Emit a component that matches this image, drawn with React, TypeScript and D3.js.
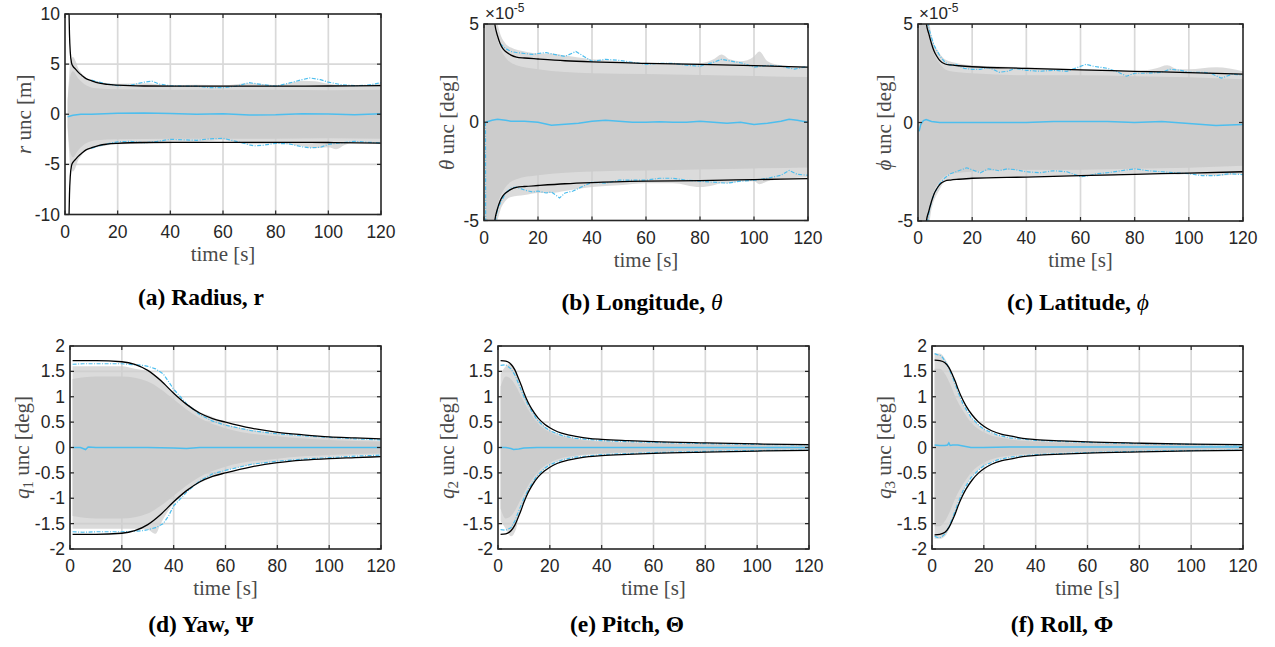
import React from 'react';
import * as d3 from 'd3';

// ---------------- DATA ----------------
const timeTicks = [0, 20, 40, 60, 80, 100, 120];
const yTicksA = [-10, -5, 0, 5, 10];
const yTicksBC = [-5, 0, 5];
const yTicksQ = [-2, -1.5, -1, -0.5, 0, 0.5, 1, 1.5, 2];

// (a) radius [m]
const aBlackT = [1.5, 1.7, 2, 2.5, 3, 4, 5, 6.5, 8, 10, 13, 16, 20, 30, 50, 80, 100, 120];
const aBlackUp = [10.5, 8, 6.2, 5.1, 4.8, 4.5, 4.2, 3.85, 3.55, 3.35, 3.1, 2.98, 2.9, 2.82, 2.8, 2.8, 2.82, 2.85];
const aBlackLo = [-10.5, -8, -6.2, -5.1, -4.8, -4.5, -4.2, -3.85, -3.55, -3.35, -3.1, -2.98, -2.9, -2.82, -2.8, -2.8, -2.82, -2.88];
const aBlueUpT = [10, 13, 16, 20, 25, 30, 33, 36, 40, 45, 50, 55, 60, 65, 70, 75, 80, 85, 90, 93, 97, 100, 105, 110, 115, 120];
const aBlueUpV = [3.4, 3.2, 3.0, 2.85, 2.9, 3.2, 3.3, 3.0, 2.85, 2.8, 2.8, 2.65, 2.65, 2.8, 3.15, 2.95, 2.8, 3.1, 3.45, 3.62, 3.45, 3.2, 2.95, 2.85, 2.9, 3.15];
const aBlueLoT = [10, 13, 16, 20, 25, 30, 35, 40, 45, 50, 55, 60, 65, 70, 72, 75, 80, 85, 90, 93, 97, 100, 105, 110, 115, 120];
const aBlueLoV = [-3.4, -3.15, -2.95, -2.75, -2.7, -2.85, -2.7, -2.5, -2.55, -2.6, -2.45, -2.4, -2.7, -3.05, -3.15, -3.1, -2.9, -2.95, -3.25, -3.35, -3.3, -3.0, -2.85, -2.7, -2.8, -2.85];
const aMeanT = [1, 3, 6, 10, 20, 30, 40, 50, 60, 70, 80, 90, 100, 110, 120];
const aMeanV = [-0.25, -0.1, 0, 0, 0.1, 0.12, 0.08, 0, 0.05, -0.08, -0.05, 0.05, 0.02, -0.05, 0.05];
const aCloudT = [1, 1.5, 2, 3, 4, 5, 6, 8, 10, 12, 15, 20, 30, 40, 50, 60, 70, 80, 85, 90, 95, 100, 103, 106, 110, 120];
const aCloudUp = [1.5, 3.5, 5.2, 5.7, 5.3, 4.6, 4.2, 3.6, 3.4, 3.3, 3.15, 3.05, 3.1, 2.9, 2.95, 2.9, 3.1, 2.9, 3.1, 3.35, 3.3, 3.05, 2.95, 2.9, 2.85, 3.1];
const aCloudLo = [-1.5, -3.5, -5.2, -5.7, -5.3, -4.6, -4.2, -3.6, -3.4, -3.3, -3.15, -3.0, -2.95, -2.75, -2.75, -2.6, -3.0, -2.95, -3.0, -3.2, -3.4, -3.3, -3.5, -3.1, -2.8, -2.9];
const aCoreT = [1, 2, 3, 5, 8, 12, 20, 40, 60, 80, 100, 120];
const aCoreUp = [1.2, 3.8, 4.3, 3.6, 2.9, 2.6, 2.5, 2.45, 2.45, 2.45, 2.4, 2.45];
const aCoreLo = [-1.2, -3.8, -4.3, -3.6, -2.9, -2.6, -2.5, -2.45, -2.45, -2.45, -2.4, -2.45];

// (b) longitude [x1e-5 deg]
const bBlackT = [3.5, 4, 5, 6, 7, 8, 10, 12, 15, 20, 30, 40, 60, 80, 100, 120];
const bBlackUp = [5.6, 5.0, 4.4, 4.0, 3.75, 3.6, 3.42, 3.32, 3.27, 3.22, 3.13, 3.07, 3.0, 2.95, 2.88, 2.8];
const bBlackLo = [-5.6, -5.0, -4.4, -4.0, -3.75, -3.6, -3.42, -3.32, -3.27, -3.22, -3.13, -3.07, -3.0, -2.97, -2.92, -2.87];
const bBlueUpT = [6, 8, 10, 12, 15, 18, 20, 23, 26, 30, 34, 37, 40, 45, 50, 55, 60, 65, 70, 75, 80, 85, 88, 92, 96, 100, 105, 110, 115, 120];
const bBlueUpV = [4.0, 3.75, 3.6, 3.55, 3.5, 3.45, 3.5, 3.55, 3.45, 3.35, 3.6, 3.35, 3.1, 3.2, 3.15, 3.05, 2.95, 3.0, 3.0, 2.9, 2.85, 3.05, 3.2, 3.1, 3.0, 2.8, 2.9, 2.85, 2.7, 2.85];
const bBlueLoT = [0.55, 0.65, 3, 5, 8, 10, 12, 15, 18, 20, 23, 25, 28, 30, 33, 36, 40, 45, 50, 55, 60, 65, 70, 75, 80, 85, 90, 95, 100, 105, 110, 113, 116, 120];
const bBlueLoV = [0, -8, -6, -4.4, -3.6, -3.35, -3.3, -3.45, -3.55, -3.5, -3.6, -3.55, -3.85, -3.6, -3.5, -3.3, -3.05, -3.1, -2.95, -2.95, -2.95, -2.85, -2.85, -2.95, -3.0, -3.05, -3.1, -3.0, -2.95, -2.85, -2.7, -2.45, -2.65, -2.7];
const bMeanT = [0.6, 3, 5, 8, 10, 15, 20, 25, 30, 35, 40, 45, 50, 55, 60, 65, 70, 75, 80, 85, 90, 95, 100, 105, 110, 113, 116, 120];
const bMeanV = [0, 0.1, 0.15, 0.1, 0.05, 0.05, 0, -0.15, -0.1, -0.05, 0.05, 0.1, 0.05, 0, 0, 0.02, 0, 0, 0.05, 0, -0.05, 0, -0.12, -0.05, 0.05, 0.15, 0.1, 0];
const bCloudT = [0.5, 1, 2, 3, 4, 5, 6, 8, 10, 15, 20, 25, 30, 40, 50, 60, 70, 80, 85, 88, 91, 95, 100, 102, 105, 110, 120];
const bCloudUp = [5.5, 5.5, 5.5, 5.5, 5.5, 5.0, 4.5, 4.0, 3.8, 3.6, 3.5, 3.5, 3.4, 3.2, 3.1, 3.0, 3.0, 3.0, 3.2, 3.45, 3.2, 3.1, 3.35, 3.6, 3.1, 2.9, 2.8];
const bCloudLo = [-5.5, -5.5, -5.5, -5.5, -5.5, -5.0, -4.5, -4.0, -3.8, -3.7, -3.6, -3.6, -3.5, -3.3, -3.2, -3.1, -3.1, -3.3, -3.2, -3.1, -3.1, -3.0, -3.0, -3.15, -3.0, -2.9, -2.8];
const bCoreT = [0.5, 3, 5, 8, 12, 20, 40, 60, 80, 100, 120];
const bCoreUp = [5.5, 5.5, 4.2, 3.3, 2.9, 2.7, 2.5, 2.45, 2.4, 2.35, 2.3];
const bCoreLo = [-5.5, -5.5, -4.2, -3.3, -2.9, -2.7, -2.5, -2.45, -2.4, -2.35, -2.3];

// (c) latitude [x1e-5 deg]
const cBlackT = [2.7, 3, 4, 5, 6, 7, 8, 10, 12, 15, 20, 40, 60, 80, 100, 120];
const cBlackUp = [5.8, 5.1, 4.5, 4.0, 3.6, 3.35, 3.15, 2.97, 2.92, 2.88, 2.83, 2.75, 2.67, 2.6, 2.53, 2.46];
const cBlackLo = [-5.8, -5.1, -4.5, -4.0, -3.6, -3.35, -3.15, -2.97, -2.92, -2.88, -2.83, -2.77, -2.7, -2.63, -2.57, -2.5];
const cBlueUpT = [3, 4, 5, 6, 8, 10, 12, 14, 17, 20, 23, 26, 30, 33, 36, 40, 45, 50, 55, 58, 62, 65, 70, 74, 77, 80, 85, 90, 93, 97, 100, 105, 108, 112, 116, 120];
const cBlueUpV = [5.5, 4.8, 4.3, 3.9, 3.4, 3.05, 2.9, 2.95, 2.75, 2.7, 2.7, 2.8, 2.55, 2.6, 2.75, 2.65, 2.6, 2.65, 2.6, 2.75, 2.95, 2.85, 2.75, 2.55, 2.35, 2.5, 2.5, 2.55, 2.7, 2.65, 2.55, 2.55, 2.5, 2.25, 2.45, 2.4];
const cBlueLoT = [3, 4, 5, 6, 8, 10, 12, 15, 18, 20, 23, 26, 30, 33, 36, 40, 45, 50, 55, 60, 63, 66, 70, 75, 80, 85, 90, 95, 100, 105, 110, 115, 120];
const cBlueLoV = [-5.5, -4.6, -4.0, -3.6, -3.1, -2.8, -2.6, -2.45, -2.3, -2.4, -2.55, -2.35, -2.45, -2.35, -2.4, -2.5, -2.55, -2.45, -2.5, -2.75, -2.7, -2.6, -2.55, -2.45, -2.35, -2.45, -2.5, -2.55, -2.6, -2.7, -2.7, -2.6, -2.65];
const cMeanT = [0.4, 1, 2, 3, 5, 8, 10, 15, 20, 30, 40, 50, 60, 70, 80, 90, 100, 110, 120];
const cMeanV = [-0.45, -0.1, 0.1, 0.15, 0.05, 0, 0, 0, 0, 0, 0, 0.05, 0.05, 0.05, 0, 0.05, -0.05, -0.15, -0.1];
const cCloudT = [0.5, 3, 3.5, 5, 8, 10, 15, 20, 40, 60, 70, 80, 88, 92, 96, 100, 110, 120];
const cCloudUp = [5.5, 5.5, 5.5, 4.4, 3.5, 3.2, 3.0, 2.9, 2.8, 2.7, 2.65, 2.6, 2.75, 2.9, 2.7, 2.7, 2.8, 2.6];
const cCloudLo = [-5.5, -5.5, -5.5, -4.4, -3.4, -3.0, -2.85, -2.8, -2.75, -2.7, -2.7, -2.6, -2.6, -2.6, -2.65, -2.6, -2.7, -2.6];
const cCoreT = [0.5, 3, 5, 8, 12, 20, 40, 60, 80, 100, 120];
const cCoreUp = [5.5, 5.5, 3.9, 3.0, 2.6, 2.5, 2.4, 2.4, 2.35, 2.3, 2.2];
const cCoreLo = [-5.5, -5.5, -3.9, -3.0, -2.6, -2.5, -2.4, -2.4, -2.35, -2.3, -2.2];

// (d) q1 [deg]
const dBlackT = [1, 10, 20, 25, 30, 35, 40, 45, 50, 55, 60, 70, 80, 90, 100, 110, 120];
const dBlackUp = [1.71, 1.71, 1.69, 1.64, 1.52, 1.32, 1.07, 0.85, 0.68, 0.57, 0.5, 0.38, 0.3, 0.25, 0.21, 0.19, 0.17];
const dBlackLo = [-1.71, -1.71, -1.69, -1.64, -1.52, -1.32, -1.07, -0.85, -0.68, -0.57, -0.5, -0.38, -0.3, -0.25, -0.22, -0.2, -0.18];
const dBlueT = [1, 5, 10, 15, 20, 25, 28, 30, 33, 36, 38, 40, 45, 50, 55, 60, 70, 80, 90, 100, 110, 120];
const dBlueUpV = [1.64, 1.65, 1.65, 1.65, 1.65, 1.63, 1.62, 1.6, 1.55, 1.45, 1.3, 1.15, 0.86, 0.65, 0.52, 0.44, 0.33, 0.27, 0.23, 0.2, 0.17, 0.15];
const dBlueLoV = [-1.66, -1.67, -1.66, -1.66, -1.66, -1.65, -1.64, -1.62, -1.58, -1.5, -1.35, -1.15, -0.88, -0.66, -0.52, -0.45, -0.33, -0.27, -0.23, -0.2, -0.17, -0.15];
const dMeanT = [1, 4, 5, 6, 7, 10, 20, 30, 40, 45, 50, 60, 80, 100, 120];
const dMeanV = [0, 0, -0.02, -0.04, 0.01, 0, 0, 0, -0.01, -0.02, 0, 0, 0, 0, 0];
const dCloudT = [1, 6, 7, 10, 20, 25, 30, 33, 35, 40, 45, 50, 55, 60, 70, 80, 90, 100, 110, 120];
const dCloudUp = [1.6, 1.6, 1.6, 1.6, 1.6, 1.55, 1.5, 1.42, 1.35, 1.05, 0.85, 0.7, 0.6, 0.47, 0.35, 0.27, 0.22, 0.19, 0.16, 0.14];
const dCloudLo = [-1.6, -1.6, -1.6, -1.6, -1.6, -1.6, -1.62, -1.7, -1.5, -1.1, -0.86, -0.7, -0.58, -0.46, -0.34, -0.27, -0.22, -0.19, -0.16, -0.14];
const dCoreT = [1, 10, 20, 30, 35, 40, 45, 50, 60, 80, 100, 120];
const dCoreUp = [1.35, 1.4, 1.4, 1.3, 1.15, 0.95, 0.75, 0.58, 0.38, 0.22, 0.15, 0.12];
const dCoreLo = [-1.35, -1.4, -1.4, -1.3, -1.15, -0.95, -0.75, -0.58, -0.38, -0.22, -0.15, -0.12];

// (e) q2 [deg]
const eBlackT = [1, 3, 5, 6.5, 8, 9, 10, 11.5, 13, 15.5, 18, 20, 23, 27, 30, 35, 40, 50, 60, 80, 100, 120];
const eBlackUp = [1.71, 1.7, 1.64, 1.53, 1.35, 1.22, 1.08, 0.9, 0.76, 0.58, 0.46, 0.39, 0.31, 0.25, 0.22, 0.18, 0.16, 0.135, 0.115, 0.09, 0.07, 0.055];
const eBlackLo = [-1.71, -1.7, -1.64, -1.53, -1.35, -1.22, -1.08, -0.9, -0.76, -0.58, -0.46, -0.39, -0.31, -0.25, -0.22, -0.18, -0.16, -0.135, -0.115, -0.09, -0.07, -0.055];
const eBlueT = [1, 3, 5, 6.5, 8, 10, 12, 15, 18, 20, 25, 30, 40, 50, 60, 80, 100, 120];
const eBlueUpV = [1.62, 1.63, 1.55, 1.43, 1.25, 1.0, 0.8, 0.55, 0.4, 0.33, 0.23, 0.18, 0.135, 0.115, 0.1, 0.075, 0.06, 0.05];
const eBlueLoV = [-1.62, -1.63, -1.58, -1.45, -1.25, -1.0, -0.8, -0.56, -0.41, -0.34, -0.24, -0.19, -0.14, -0.12, -0.1, -0.075, -0.06, -0.05];
const eMeanT = [1, 3, 5, 6, 8, 10, 15, 20, 120];
const eMeanV = [0, 0, -0.02, -0.04, -0.03, -0.01, 0, 0, 0];
const eCloudT = [1, 3, 5, 7, 8, 10, 12, 15, 18, 20, 25, 30, 40, 60, 80, 100, 120];
const eCloudUp = [1.45, 1.6, 1.65, 1.5, 1.3, 1.05, 0.85, 0.58, 0.42, 0.34, 0.24, 0.18, 0.13, 0.1, 0.075, 0.06, 0.05];
const eCloudLo = [-1.45, -1.6, -1.75, -1.6, -1.35, -1.05, -0.85, -0.58, -0.42, -0.34, -0.24, -0.18, -0.13, -0.1, -0.075, -0.06, -0.05];
const eCoreT = [1, 3, 5, 7, 9, 12, 15, 20, 30, 40, 60, 120];
const eCoreUp = [1.2, 1.4, 1.35, 1.2, 1.0, 0.72, 0.5, 0.3, 0.16, 0.12, 0.08, 0.04];
const eCoreLo = [-1.2, -1.4, -1.35, -1.2, -1.0, -0.72, -0.5, -0.3, -0.16, -0.12, -0.08, -0.04];

// (f) q3 [deg]
const fBlackT = [1, 3, 5, 6.5, 8, 9, 10, 11.5, 13, 15.5, 18, 20, 23, 27, 30, 35, 40, 50, 60, 80, 100, 120];
const fBlackUp = [1.72, 1.71, 1.67, 1.58, 1.42, 1.3, 1.16, 0.98, 0.83, 0.64, 0.5, 0.42, 0.33, 0.26, 0.23, 0.18, 0.155, 0.13, 0.11, 0.085, 0.065, 0.055];
const fBlackLo = [-1.72, -1.71, -1.67, -1.58, -1.42, -1.3, -1.16, -0.98, -0.83, -0.64, -0.5, -0.42, -0.33, -0.26, -0.23, -0.18, -0.155, -0.13, -0.11, -0.085, -0.065, -0.055];
const fBlueT = [1, 2, 3, 4, 5, 6, 7, 8, 10, 12, 15, 18, 20, 25, 30, 40, 50, 60, 80, 100, 120];
const fBlueUpV = [1.85, 1.83, 1.82, 1.78, 1.7, 1.62, 1.5, 1.38, 1.1, 0.85, 0.6, 0.44, 0.36, 0.25, 0.19, 0.14, 0.12, 0.1, 0.075, 0.06, 0.05];
const fBlueLoV = [-1.75, -1.77, -1.78, -1.75, -1.7, -1.62, -1.5, -1.38, -1.1, -0.85, -0.6, -0.44, -0.36, -0.25, -0.19, -0.14, -0.12, -0.1, -0.075, -0.06, -0.05];
const fMeanT = [1, 3, 5, 6, 6.5, 7, 8, 9, 10, 12, 15, 20, 30, 120];
const fMeanV = [0.05, 0.04, 0.04, 0.05, 0.09, 0.04, 0.05, 0.05, 0.05, 0.03, 0, 0, 0.01, 0.01];
const fCloudT = [1, 3, 5, 7, 8, 10, 12, 15, 18, 20, 25, 30, 40, 60, 80, 100, 120];
const fCloudUp = [1.85, 1.85, 1.75, 1.55, 1.4, 1.1, 0.85, 0.6, 0.44, 0.36, 0.25, 0.19, 0.14, 0.1, 0.075, 0.06, 0.05];
const fCloudLo = [-1.8, -1.8, -1.75, -1.55, -1.4, -1.1, -0.85, -0.6, -0.44, -0.36, -0.25, -0.19, -0.14, -0.1, -0.075, -0.06, -0.05];
const fCoreT = [1, 3, 5, 7, 9, 12, 15, 20, 30, 40, 60, 120];
const fCoreUp = [1.55, 1.55, 1.45, 1.25, 1.0, 0.72, 0.5, 0.3, 0.16, 0.12, 0.08, 0.04];
const fCoreLo = [-1.55, -1.55, -1.45, -1.25, -1.0, -0.72, -0.5, -0.3, -0.16, -0.12, -0.08, -0.04];

// ---------------- STYLE / LAYOUT ----------------
const BLUE = '#4DBEEE';
const GRAY = '#cccccc';
const AX = '#262626';
const GRID = '#d9d9d9';
const SANS = '"Liberation Sans", Arial, Helvetica, sans-serif';
const SERIF = '"Liberation Serif", "Times New Roman", serif';

type PanelCfg = {
  id: string;
  box: [number, number, number, number];
  yDomain: [number, number];
  yTicks: number[];
  exp: boolean;
  yLabelX: number;
  yLabel: React.ReactNode;
  caption: React.ReactNode;
  captionX: number;
  captionY: number;
  cloud: [number[], number[], number[]];
  core: [number[], number[], number[]];
  black: [number[], number[], number[]];
  blueUp: [number[], number[]];
  blueLo: [number[], number[]];
  mean: [number[], number[]];
};

const it = (s: string) => <tspan fontStyle="italic">{s}</tspan>;
const itN = (s: string) => <tspan fontStyle="italic" fontWeight="normal">{s}</tspan>;
const qLabel = (n: string) => (
  <>
    <tspan fontStyle="italic">q</tspan>
    <tspan fontSize="15" dy="4">{n}</tspan>
    <tspan dy="-4"> unc [deg]</tspan>
  </>
);

const panels: PanelCfg[] = [
  {
    id: 'a', box: [65, 14, 381, 214.5], yDomain: [-10, 10], yTicks: yTicksA, exp: false,
    yLabelX: 24, yLabel: <>{it('r')} unc [m]</>,
    caption: <>(a) Radius, r</>, captionX: 201, captionY: 305,
    cloud: [aCloudT, aCloudUp, aCloudLo], core: [aCoreT, aCoreUp, aCoreLo],
    black: [aBlackT, aBlackUp, aBlackLo], blueUp: [aBlueUpT, aBlueUpV], blueLo: [aBlueLoT, aBlueLoV],
    mean: [aMeanT, aMeanV],
  },
  {
    id: 'b', box: [484, 24, 808, 220.5], yDomain: [-5, 5], yTicks: yTicksBC, exp: true,
    yLabelX: 447, yLabel: <>{it('θ')} unc [deg]</>,
    caption: <>(b) Longitude, {itN('θ')}</>, captionX: 642, captionY: 310,
    cloud: [bCloudT, bCloudUp, bCloudLo], core: [bCoreT, bCoreUp, bCoreLo],
    black: [bBlackT, bBlackUp, bBlackLo], blueUp: [bBlueUpT, bBlueUpV], blueLo: [bBlueLoT, bBlueLoV],
    mean: [bMeanT, bMeanV],
  },
  {
    id: 'c', box: [918, 24, 1243, 221], yDomain: [-5, 5], yTicks: yTicksBC, exp: true,
    yLabelX: 884, yLabel: <>{it('ϕ')} unc [deg]</>,
    caption: <>(c) Latitude, {itN('ϕ')}</>, captionX: 1078, captionY: 310,
    cloud: [cCloudT, cCloudUp, cCloudLo], core: [cCoreT, cCoreUp, cCoreLo],
    black: [cBlackT, cBlackUp, cBlackLo], blueUp: [cBlueUpT, cBlueUpV], blueLo: [cBlueLoT, cBlueLoV],
    mean: [cMeanT, cMeanV],
  },
  {
    id: 'd', box: [70, 346, 381, 549], yDomain: [-2, 2], yTicks: yTicksQ, exp: false,
    yLabelX: 22, yLabel: qLabel('1'),
    caption: <>(d) Yaw, Ψ</>, captionX: 201, captionY: 632,
    cloud: [dCloudT, dCloudUp, dCloudLo], core: [dCoreT, dCoreUp, dCoreLo],
    black: [dBlackT, dBlackUp, dBlackLo], blueUp: [dBlueT, dBlueUpV], blueLo: [dBlueT, dBlueLoV],
    mean: [dMeanT, dMeanV],
  },
  {
    id: 'e', box: [498, 346, 809, 549], yDomain: [-2, 2], yTicks: yTicksQ, exp: false,
    yLabelX: 447, yLabel: qLabel('2'),
    caption: <>(e) Pitch, Θ</>, captionX: 627, captionY: 632,
    cloud: [eCloudT, eCloudUp, eCloudLo], core: [eCoreT, eCoreUp, eCoreLo],
    black: [eBlackT, eBlackUp, eBlackLo], blueUp: [eBlueT, eBlueUpV], blueLo: [eBlueT, eBlueLoV],
    mean: [eMeanT, eMeanV],
  },
  {
    id: 'f', box: [932, 346, 1243, 549], yDomain: [-2, 2], yTicks: yTicksQ, exp: false,
    yLabelX: 884, yLabel: qLabel('3'),
    caption: <>(f) Roll, Φ</>, captionX: 1062, captionY: 632,
    cloud: [fCloudT, fCloudUp, fCloudLo], core: [fCoreT, fCoreUp, fCoreLo],
    black: [fBlackT, fBlackUp, fBlackLo], blueUp: [fBlueT, fBlueUpV], blueLo: [fBlueT, fBlueLoV],
    mean: [fMeanT, fMeanV],
  },
];

function Panel({ p }: { p: PanelCfg }) {
  const [x0, y0, x1, y1] = p.box;
  const x = d3.scaleLinear().domain([0, 120]).range([x0, x1]);
  const y = d3.scaleLinear().domain(p.yDomain).range([y1, y0]);
  const zip = (t: number[], v: number[]) => t.map((tt, i) => [tt, v[i]] as [number, number]);
  const lineSmooth = d3.line<[number, number]>().x(d => x(d[0])).y(d => y(d[1])).curve(d3.curveMonotoneX);
  const lineRaw = d3.line<[number, number]>().x(d => x(d[0])).y(d => y(d[1]));
  const band = (t: number[], up: number[], lo: number[]) =>
    d3.area<number>().x(i => x(t[i])).y0(i => y(lo[i])).y1(i => y(up[i])).curve(d3.curveMonotoneX)(t.map((_, i) => i)) || '';
  const clip = `clip-${p.id}`;
  const tl = 4;
  return (
    <g>
      <defs>
        <clipPath id={clip}>
          <rect x={x0} y={y0} width={x1 - x0} height={y1 - y0} />
        </clipPath>
      </defs>
      <rect x={x0} y={y0} width={x1 - x0} height={y1 - y0} fill="#fff" />
      {timeTicks.slice(1, -1).map(t => (
        <line key={'gx' + t} x1={x(t)} x2={x(t)} y1={y0} y2={y1} stroke={GRID} strokeWidth={1.7} />
      ))}
      {p.yTicks.slice(1, -1).map(v => (
        <line key={'gy' + v} x1={x0} x2={x1} y1={y(v)} y2={y(v)} stroke={GRID} strokeWidth={1.7} />
      ))}
      <g clipPath={`url(#${clip})`}>
        <path d={band(p.cloud[0], p.cloud[1], p.cloud[2])} fill={GRAY} fillOpacity={0.7} />
        <path d={band(p.core[0], p.core[1], p.core[2])} fill={GRAY} />
        <path d={lineRaw(zip(p.blueUp[0], p.blueUp[1])) || ''} fill="none" stroke={BLUE} strokeWidth={1.2} strokeDasharray="4,1.5,1,1.5" />
        <path d={lineRaw(zip(p.blueLo[0], p.blueLo[1])) || ''} fill="none" stroke={BLUE} strokeWidth={1.2} strokeDasharray="4,1.5,1,1.5" />
        <path d={lineRaw(zip(p.mean[0], p.mean[1])) || ''} fill="none" stroke={BLUE} strokeWidth={1.5} />
        <path d={lineSmooth(zip(p.black[0], p.black[1])) || ''} fill="none" stroke="#000" strokeWidth={1.3} />
        <path d={lineSmooth(zip(p.black[0], p.black[2])) || ''} fill="none" stroke="#000" strokeWidth={1.3} />
      </g>
      {timeTicks.map(t => (
        <g key={'tx' + t}>
          <line x1={x(t)} x2={x(t)} y1={y1} y2={y1 - tl} stroke={AX} strokeWidth={1.2} />
          <line x1={x(t)} x2={x(t)} y1={y0} y2={y0 + tl} stroke={AX} strokeWidth={1.2} />
          <text x={x(t)} y={y1 + 23} textAnchor="middle" fontFamily={SANS} fontSize={17.5} fill={AX}>{t}</text>
        </g>
      ))}
      {p.yTicks.map(v => (
        <g key={'ty' + v}>
          <line x1={x0} x2={x0 + tl} y1={y(v)} y2={y(v)} stroke={AX} strokeWidth={1.2} />
          <line x1={x1} x2={x1 - tl} y1={y(v)} y2={y(v)} stroke={AX} strokeWidth={1.2} />
          <text x={x0 - 5} y={y(v) + 6} textAnchor="end" fontFamily={SANS} fontSize={17.5} fill={AX}>{String(v)}</text>
        </g>
      ))}
      <rect x={x0} y={y0} width={x1 - x0} height={y1 - y0} fill="none" stroke={AX} strokeWidth={1.6} />
      {p.exp && (
        <text x={x0 + 1} y={y0 - 5} fontFamily={SANS} fontSize={17} fill={AX}>
          ×10<tspan fontSize={12} dy={-7}>-5</tspan>
        </text>
      )}
      <text x={(x0 + x1) / 2} y={y1 + 46} textAnchor="middle" fontFamily={SERIF} fontSize={21} fill="#4a4a4a">time [s]</text>
      <text transform={`translate(${p.yLabelX},${(y0 + y1) / 2}) rotate(-90)`} dy="0.35em" textAnchor="middle"
        fontFamily={SERIF} fontSize={21} fill="#4a4a4a">{p.yLabel}</text>
      <text x={p.captionX} y={p.captionY} textAnchor="middle" fontFamily={SERIF} fontWeight="bold" fontSize={23.5} fill="#000">{p.caption}</text>
    </g>
  );
}

export default function App() {
  return (
    <svg width={1275} height={647} viewBox="0 0 1275 647" style={{ position: 'absolute', left: 0, top: 0, background: '#fff' }}>
      <rect width={1275} height={647} fill="#fff" />
      {panels.map(p => <Panel key={p.id} p={p} />)}
    </svg>
  );
}
